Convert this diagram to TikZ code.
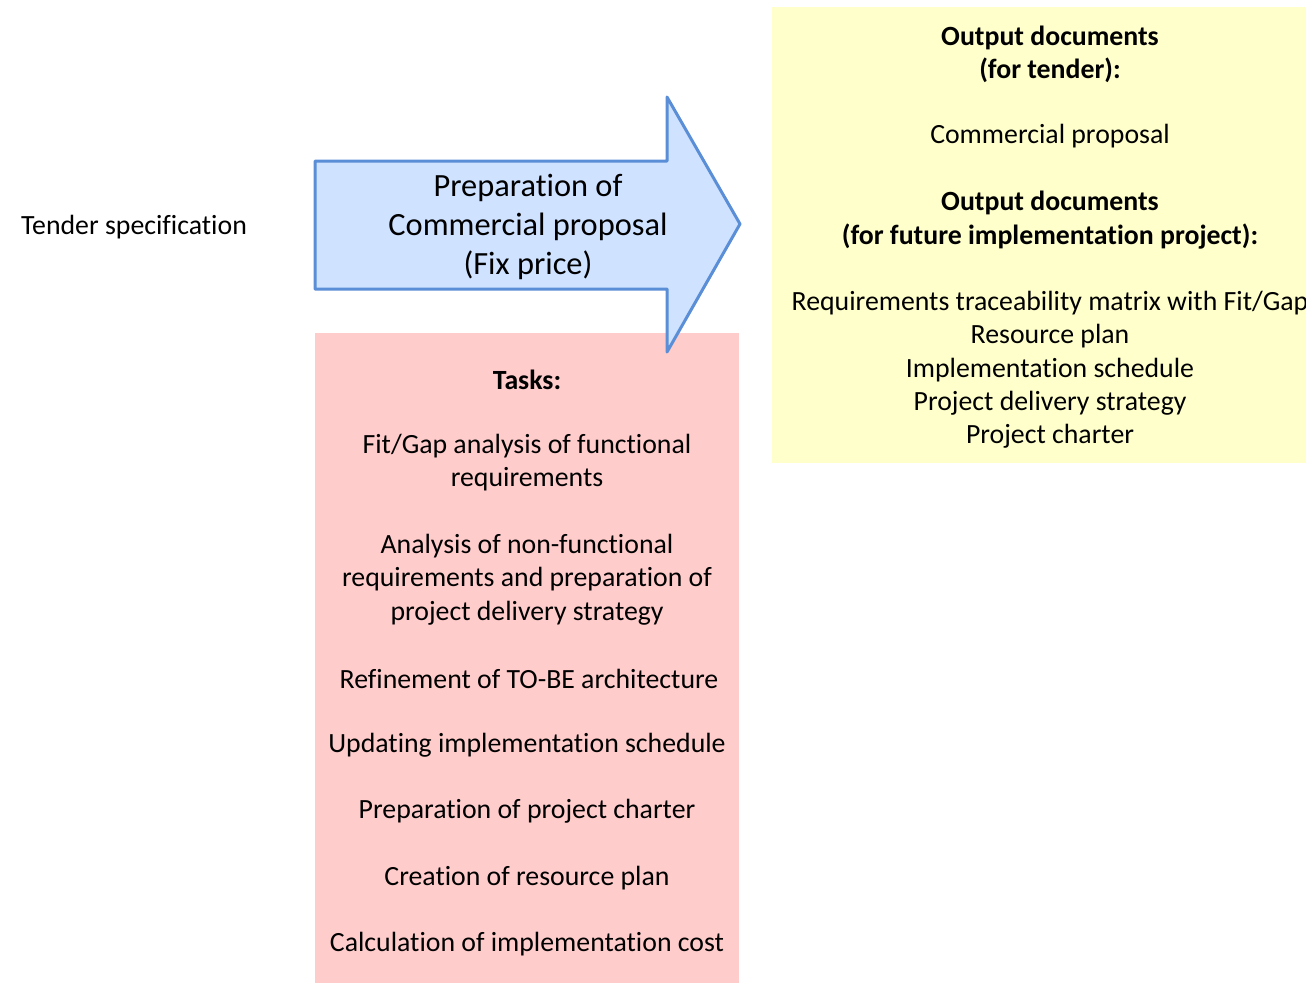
\documentclass[tikz,border=0pt]{standalone}
\usepackage{fontspec}
\setmainfont{Carlito}[Ligatures={NoCommon}]
\definecolor{arrowfill}{HTML}{CFE2FF}
\definecolor{arrowline}{HTML}{5A8ED6}
\definecolor{taskfill}{HTML}{FFCCCC}
\definecolor{outfill}{HTML}{FFFFCC}
\tikzset{
  txt/.style={align=center, inner sep=0pt, yshift=-2.5pt, font=\fontsize{27.8}{33.3}\selectfont},
  bigtxt/.style={align=center, inner sep=0pt, yshift=-2.5pt, font=\fontsize{32.4}{39}\selectfont},
}
\begin{document}
\begin{tikzpicture}[x=1pt,y=-1pt]
\useasboundingbox (0,0) rectangle (1306,983);
% boxes
\fill[outfill] (772,7) rectangle (1306,463);
\fill[taskfill] (315,333) rectangle (739,983);
% arrow
\draw[arrowline, fill=arrowfill, line width=3pt, line join=round]
  (315,161) -- (667,161) -- (667,97) -- (740,224) -- (667,352) -- (667,289) -- (315,289) -- cycle;
\node[bigtxt] (proc) at (528,224) {Preparation of\\Commercial proposal\\(Fix price)};
% input
\node[txt] (input) at (134,225) {Tender specification};
% tasks
\node[txt] (tasks) at (527,377) {\bfseries Tasks:};
\node[txt] (t1) at (527,460) {Fit/Gap analysis of functional\\requirements};
\node[txt] (t2) at (527,577) {Analysis of non-functional\\requirements and preparation of\\project delivery strategy};
\node[txt] (t3) at (529,676) {Refinement of TO-BE architecture};
\node[txt] (t4) at (527,743) {Updating implementation schedule};
\node[txt] (t5) at (527,809) {Preparation of project charter};
\node[txt] (t6) at (527,876) {Creation of resource plan};
\node[txt] (t7) at (527,942) {Calculation of implementation cost};
% outputs
\node[txt] (o1) at (1050,51.5) {\bfseries Output documents\\\bfseries (for tender):};
\node[txt] (o2) at (1050,134) {Commercial proposal};
\node[txt] (o3) at (1050,217.5) {\bfseries Output documents\\\bfseries (for future implementation project):};
\node[txt] (o4) at (1050,367.5) {Requirements traceability matrix with Fit/Gap\\Resource plan\\Implementation schedule\\Project delivery strategy\\Project charter};
\end{tikzpicture}
\end{document}
